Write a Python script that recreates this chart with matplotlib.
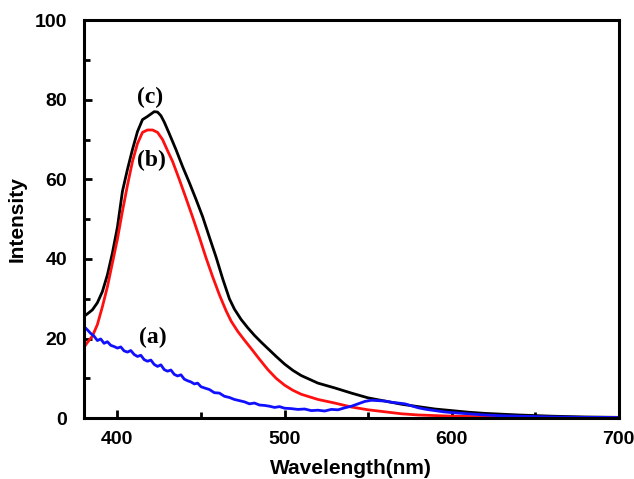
import numpy as np
import matplotlib.pyplot as plt
from matplotlib.ticker import MultipleLocator

# emission spectra, wavelength in nm
wl_c = [380, 382, 385, 388, 391, 394, 397, 400, 403, 406, 409, 412, 415, 418, 420, 422,
        424, 426, 428, 431, 435, 439, 443, 447, 451, 455, 459, 463, 467, 470, 474, 478,
        482, 486, 490, 495, 500, 505, 510, 520, 530, 540, 550, 560, 570, 580, 590, 600,
        610, 620, 640, 660, 680, 700]
int_c = [25.6, 26.2, 27.2, 29.0, 31.8, 36.0, 41.5, 48.0, 57.0, 62.5, 67.5, 72.0, 75.0, 75.8,
         76.4, 77.0, 76.9, 76.0, 74.4, 71.5, 67.5, 63.2, 59.2, 55.0, 50.6, 45.5, 40.5, 35.0,
         30.0, 27.4, 24.8, 22.7, 20.8, 19.1, 17.5, 15.5, 13.6, 12.0, 10.7, 8.8, 7.6, 6.3,
         5.1, 4.3, 3.5, 2.9, 2.3, 1.9, 1.5, 1.2, 0.8, 0.5, 0.3, 0.2]

wl_b = [380, 382, 385, 388, 391, 394, 397, 400, 403, 406, 409, 412, 415, 418, 421, 424,
        427, 430, 433, 437, 441, 445, 449, 453, 457, 461, 465, 468, 472, 476, 480, 485,
        490, 495, 500, 505, 510, 520, 530, 540, 550, 560, 570, 580, 600, 620, 640, 660,
        680, 700]
int_b = [17.8, 19.0, 20.6, 23.5, 28.0, 33.0, 39.0, 45.0, 52.0, 58.5, 64.5, 69.0, 71.8, 72.4,
         72.4, 71.8, 70.0, 67.2, 64.5, 60.0, 55.3, 50.5, 45.5, 40.3, 35.5, 31.0, 27.0, 24.4,
         21.8, 19.6, 17.5, 14.8, 12.2, 10.0, 8.3, 7.0, 6.0, 4.7, 3.8, 2.8, 2.1, 1.6, 1.1,
         0.8, 0.5, 0.35, 0.25, 0.2, 0.15, 0.1]

wl_a = [380, 382, 384, 386, 388, 390, 392, 394, 396, 398, 400, 402, 404, 406, 408, 410,
        412, 414, 416, 418, 420, 422, 424, 426, 428, 430, 432, 434, 436, 438, 440, 442,
        444, 446, 448, 450, 452, 455, 458, 461, 464, 467, 470, 473, 476, 479, 482, 485,
        488, 491, 494, 497, 500, 504, 508, 512, 516, 520, 524, 528, 532, 536, 540, 544,
        548, 552, 556, 560, 564, 568, 572, 576, 580, 585, 590, 595, 600, 610, 620, 630,
        640, 650, 660, 670, 680, 690, 700]
int_a = [23.0, 22.2, 21.3, 20.6, 19.5, 19.9, 18.8, 19.2, 18.3, 18.0, 17.6, 17.9, 16.9, 16.6,
         17.0, 16.0, 15.5, 15.8, 14.7, 14.3, 14.6, 13.5, 13.0, 13.4, 12.2, 11.8, 12.1, 11.0,
         10.6, 10.9, 9.8, 9.4, 9.1, 8.6, 8.8, 7.9, 7.6, 7.2, 6.4, 6.3, 5.5, 5.2, 4.7, 4.4,
         4.1, 3.6, 3.8, 3.3, 3.2, 3.0, 2.7, 2.9, 2.5, 2.4, 2.2, 2.3, 1.9, 2.0, 1.8, 2.2,
         2.1, 2.6, 3.0, 3.6, 4.2, 4.5, 4.4, 4.3, 4.0, 3.8, 3.6, 3.1, 2.6, 2.2, 1.9, 1.6,
         1.4, 1.1, 0.8, 0.6, 0.5, 0.4, 0.3, 0.25, 0.2, 0.2, 0.15]

fig = plt.figure(figsize=(6.34, 4.79), dpi=100)
ax = fig.add_axes([0.1325, 0.127, 0.8435, 0.831])

ax.plot(wl_c, int_c, color='black', lw=2.0)
ax.plot(wl_b, int_b, color='#ff1010', lw=2.0)
ax.plot(wl_a, int_a, color='#1010ff', lw=2.0)

lab_font = dict(family='Liberation Serif', fontweight='bold', fontsize=17)
ax.text(419.5, 80.5, '(c)', ha='center', va='center', **lab_font)
ax.text(420.5, 64.8, '(b)', ha='center', va='center', **lab_font)
ax.text(421, 20.3, '(a)', ha='center', va='center', **lab_font)

ax.set_xlim(380, 700)
ax.set_ylim(0, 100)
ax.xaxis.set_major_locator(MultipleLocator(100))
ax.xaxis.set_minor_locator(MultipleLocator(50))
ax.yaxis.set_major_locator(MultipleLocator(20))
ax.yaxis.set_minor_locator(MultipleLocator(10))

for s in ax.spines.values():
    s.set_linewidth(2.2)
ax.tick_params(which='both', direction='in', width=2, top=False, right=False)
ax.tick_params(which='major', length=6, labelsize=14)
ax.tick_params(axis='x', which='major', pad=9)
ax.tick_params(axis='y', which='major', pad=12)
ax.tick_params(which='minor', length=4)
for lbl in ax.get_xticklabels() + ax.get_yticklabels():
    lbl.set_fontfamily('Liberation Sans')
    lbl.set_fontweight('bold')

ax.set_xlabel('Wavelength(nm)', fontsize=15, fontweight='bold', family='Liberation Sans', labelpad=8)
ax.set_ylabel('Intensity', fontsize=15, fontweight='bold', family='Liberation Sans', labelpad=6)

fig.savefig('out.png', dpi=100)
